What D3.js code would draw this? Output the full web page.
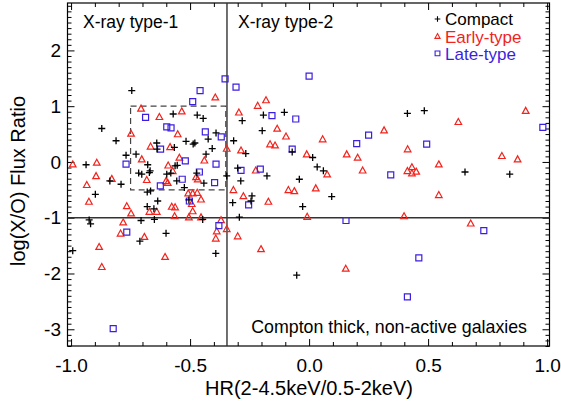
<!DOCTYPE html>
<html>
<head>
<meta charset="utf-8">
<script src="https://cdn.jsdelivr.net/npm/d3@7"></script>
<style>
  body { margin: 0; background: #fff; }
  text { font-family: "Liberation Sans", Arial, Helvetica, sans-serif; }
</style>
</head>
<body>
<div id="chart"></div>
<script>
// hardness ratio (x) and log(X/O) (y) per galaxy class
var compactHR = [-0.745,-0.571,-0.470,-0.445,-0.871,-0.391,-0.281,-0.192,-0.104,-0.197,-0.317,0.413,0.484,-0.811,-0.640,-0.639,-0.566,-0.517,-0.487,-0.480,-0.424,-0.407,-0.769,-0.727,-0.937,-0.678,-0.563,-0.554,-0.433,-0.837,-0.716,-0.703,-0.671,-0.668,-0.598,-0.581,-0.556,-0.472,-0.442,-0.346,-0.790,-0.898,-0.680,-0.666,-0.636,-0.680,-0.652,-0.524,-0.505,-0.447,-0.321,-0.924,-0.918,-0.706,-0.650,-0.601,-0.711,-0.993,-0.392,-0.071,-0.266,0.015,-0.300,-0.177,-0.287,-0.041,0.034,0.060,-0.240,-0.244,0.095,-0.027,-0.293,0.655,0.843,-0.052];
var compactXO = [1.28,0.86,0.84,0.78,0.60,0.52,0.74,0.84,0.89,0.56,0.38,0.87,0.92,0.38,0.34,0.23,0.26,0.37,0.32,0.34,0.41,0.24,0.12,0.14,-0.05,-0.05,-0.07,-0.06,0.14,-0.34,-0.20,-0.22,-0.19,-0.16,-0.22,-0.20,-0.34,-0.20,-0.38,-0.25,-0.40,-0.58,-0.54,-0.52,-0.70,-0.80,-0.84,-0.46,-0.68,-1.03,-0.73,-1.04,-1.11,-1.05,-1.03,-1.28,-1.42,-1.59,-1.64,0.18,0.15,0.08,-0.11,-0.25,-0.34,-0.31,-0.09,-0.16,-0.61,-0.70,-0.62,-0.80,-0.99,-0.18,-0.22,-2.03];

var earlyHR = [-0.706,-0.629,-0.535,-0.394,-0.748,-0.552,-0.295,-0.216,-0.181,-0.134,-0.097,0.057,0.315,0.627,0.910,-0.666,-0.584,-0.346,-0.703,-0.993,-0.892,-0.592,-0.545,-0.440,-0.895,-0.829,-0.682,-0.573,-0.601,-0.594,-0.475,-0.468,-0.934,-0.925,-0.766,-0.748,-0.671,-0.640,-0.577,-0.563,-0.565,-0.508,-0.489,-0.493,-0.470,-0.454,-0.489,-0.505,-0.454,-0.318,-0.781,-0.792,-0.692,-0.882,-0.605,-0.871,-0.370,-0.346,-0.388,-0.392,-0.164,-0.143,-0.286,-0.010,0.158,0.204,-0.224,0.076,0.225,-0.276,-0.171,-0.087,-0.062,0.028,-0.008,-0.300,-0.202,0.154,0.414,0.545,0.810,0.876,0.413,0.432,0.432,0.450,0.545,0.399,0.679];
var earlyXO = [0.96,0.81,0.91,1.16,0.51,0.50,0.89,1.01,1.11,0.60,0.46,0.41,0.57,0.72,0.92,0.28,0.27,0.24,0.05,-0.04,-0.01,-0.06,0.08,0.03,-0.25,-0.30,-0.32,-0.16,-0.34,-0.37,-0.27,-0.31,-0.41,-0.71,-0.79,-0.92,-0.89,-0.89,-0.80,-0.81,-0.97,-0.56,-0.56,-0.75,-0.55,-0.67,-0.88,-0.99,-0.99,-0.50,-1.08,-1.28,-1.34,-1.52,-1.70,-1.88,-1.04,-1.20,-1.24,-1.37,0.32,0.30,0.21,0.14,0.14,0.08,-0.15,-0.22,-0.15,-0.61,-0.71,-0.50,-0.52,-0.47,-0.98,-1.33,-1.56,-1.91,0.23,-0.04,0.11,0.05,-0.16,-0.09,-0.20,-0.17,-0.59,-0.97,-1.10];

var lateHR = [-0.687,-0.489,-0.458,-0.353,-0.307,-0.598,-0.580,-0.436,-0.369,0.000,-0.156,-0.056,0.250,0.982,-0.624,-0.769,-0.520,-0.391,-0.533,-0.461,-0.397,-0.625,-0.503,-0.766,-0.379,-0.071,0.200,-0.286,-0.205,0.343,-0.254,0.155,0.494,0.734,0.461,-0.823,0.413];
var lateXO = [0.80,1.08,1.28,1.49,1.34,0.63,0.61,0.54,0.45,1.54,0.83,0.77,0.48,0.62,0.23,-0.04,0.02,-0.04,-0.31,-0.18,-0.37,-0.43,-0.70,-1.26,-1.14,0.23,0.33,-0.15,-0.13,-0.23,-0.77,-1.05,0.32,-1.23,-1.72,-2.99,-2.42];

var xMajor = [-1.0, -0.5, 0.0, 0.5, 1.0];
var yMajor = [-3, -2, -1, 0, 1, 2];
var legendNames = ["Compact", "Early-type", "Late-type"];

var width = 561, height = 404;
var mLeft = 67.5, mRight = 549.5, mTop = 3, mBottom = 346;
var red = "#f2231c", blue = "#3b1fe0";

var svg = d3.select("#chart").append("svg")
    .attr("width", width)
    .attr("height", height);

var x = d3.scaleLinear().domain([-1.015, 1.01]).range([mLeft, mRight]);
var y = d3.scaleLinear().domain([-3.3, 2.85]).range([mBottom, mTop]);

var xMinor = d3.range(-10, 11).map(function(i) { return i / 10; })
    .filter(function(v) { return xMajor.indexOf(v) < 0; });
var yMinor = d3.range(-33, 29).map(function(i) { return i / 10; })
    .filter(function(v) { return Math.abs(v - Math.round(v)) > 1e-6; });

// plain hyphen minus like the original plot
function fmt(spec) {
  var f = d3.format(spec);
  return function(d) { return f(d).replace("\u2212", "-"); };
}

function styleAxis(g) {
  g.select(".domain").remove();
  g.selectAll("line").attr("stroke", "#000").attr("stroke-width", 1);
  g.selectAll("text").attr("fill", "#000").style("font-size", "19px");
}

// bottom axis, major with labels
svg.append("g")
    .attr("transform", "translate(0," + mBottom + ")")
    .call(d3.axisBottom(x).tickValues(xMajor).tickSizeInner(-7).tickSizeOuter(0)
      .tickPadding(12.5).tickFormat(fmt(".1f")))
    .call(styleAxis);
svg.append("g")
    .attr("transform", "translate(0," + mBottom + ")")
    .call(d3.axisBottom(x).tickValues(xMinor).tickSize(-4).tickFormat(""))
    .call(styleAxis);
// top axis
svg.append("g")
    .attr("transform", "translate(0," + mTop + ")")
    .call(d3.axisTop(x).tickValues(xMajor).tickSize(-7).tickFormat(""))
    .call(styleAxis);
svg.append("g")
    .attr("transform", "translate(0," + mTop + ")")
    .call(d3.axisTop(x).tickValues(xMinor).tickSize(-4).tickFormat(""))
    .call(styleAxis);
// left axis
svg.append("g")
    .attr("transform", "translate(" + mLeft + ",0)")
    .call(d3.axisLeft(y).tickValues(yMajor).tickSizeInner(-7).tickSizeOuter(0)
      .tickPadding(6.5).tickFormat(fmt("d")))
    .call(styleAxis);
svg.append("g")
    .attr("transform", "translate(" + mLeft + ",0)")
    .call(d3.axisLeft(y).tickValues(yMinor).tickSize(-4).tickFormat(""))
    .call(styleAxis);
// right axis
svg.append("g")
    .attr("transform", "translate(" + mRight + ",0)")
    .call(d3.axisRight(y).tickValues(yMajor).tickSize(-7).tickFormat(""))
    .call(styleAxis);
svg.append("g")
    .attr("transform", "translate(" + mRight + ",0)")
    .call(d3.axisRight(y).tickValues(yMinor).tickSize(-4).tickFormat(""))
    .call(styleAxis);

// frame
svg.append("rect")
    .attr("x", mLeft).attr("y", mTop)
    .attr("width", mRight - mLeft).attr("height", mBottom - mTop)
    .attr("fill", "none").attr("stroke", "#000").attr("stroke-width", 1.2);

// dividing lines
svg.append("line")
    .attr("x1", x(-0.345)).attr("x2", x(-0.345))
    .attr("y1", mTop).attr("y2", mBottom)
    .attr("stroke", "#333").attr("stroke-width", 1.4);
svg.append("line")
    .attr("x1", mLeft).attr("x2", mRight)
    .attr("y1", y(-1)).attr("y2", y(-1))
    .attr("stroke", "#333").attr("stroke-width", 1.4);

// dashed box
svg.append("rect")
    .attr("x", x(-0.75)).attr("y", y(1))
    .attr("width", x(-0.35) - x(-0.75)).attr("height", y(-0.5) - y(1))
    .attr("fill", "none").attr("stroke", "#444").attr("stroke-width", 1.2)
    .attr("stroke-dasharray", "6,4");

var plusPath = "M-3.5,0H3.5M0,-3.5V3.5";
var triPath = "M0,-3.3L3.3,2.7H-3.3Z";
var sqPath = "M-3,-3H3V3H-3Z";

function drawSeries(hr, xo, path, color, sw) {
  svg.append("g").selectAll("path")
      .data(d3.zip(hr, xo))
    .enter().append("path")
      .attr("d", path)
      .attr("transform", function(d) { return "translate(" + x(d[0]) + "," + y(d[1]) + ")"; })
      .attr("fill", "none")
      .attr("stroke", color)
      .attr("stroke-width", sw);
}

drawSeries(earlyHR, earlyXO, triPath, red, 1.2);
drawSeries(lateHR, lateXO, sqPath, blue, 1.2);
drawSeries(compactHR, compactXO, plusPath, "#000", 1.3);

// region labels
svg.append("text").attr("x", 83).attr("y", 27.5)
    .style("font-size", "17.5px").text("X-ray type-1");
svg.append("text").attr("x", 238).attr("y", 27.5)
    .style("font-size", "17.5px").text("X-ray type-2");
svg.append("text").attr("x", 527).attr("y", 332.5)
    .attr("text-anchor", "end")
    .style("font-size", "17.8px").text("Compton thick, non-active galaxies");

// legend
var legendColors = ["#000", red, blue];
var legendPaths = ["M-2.8,0H2.8M0,-2.8V2.8", "M0,-2.6L2.6,2.2H-2.6Z", "M-2.4,-2.4H2.4V2.4H-2.4Z"];
legendNames.forEach(function(name, i) {
  var ly = 19 + i * 17.2;
  svg.append("path").attr("d", legendPaths[i])
      .attr("transform", "translate(437.5," + ly + ")")
      .attr("fill", "none").attr("stroke", legendColors[i]).attr("stroke-width", 1.1);
  svg.append("text").attr("x", 445).attr("y", ly + 6.3)
      .attr("fill", legendColors[i])
      .style("font-size", "17px").text(name);
});

// axis titles
svg.append("text")
    .attr("x", 309).attr("y", 395)
    .attr("text-anchor", "middle")
    .style("font-size", "20px")
    .text("HR(2-4.5keV/0.5-2keV)");
svg.append("text")
    .attr("transform", "translate(25," + 181 + ") rotate(-90)")
    .attr("text-anchor", "middle")
    .style("font-size", "20px")
    .text("log(X/O) Flux Ratio");
</script>
</body>
</html>
